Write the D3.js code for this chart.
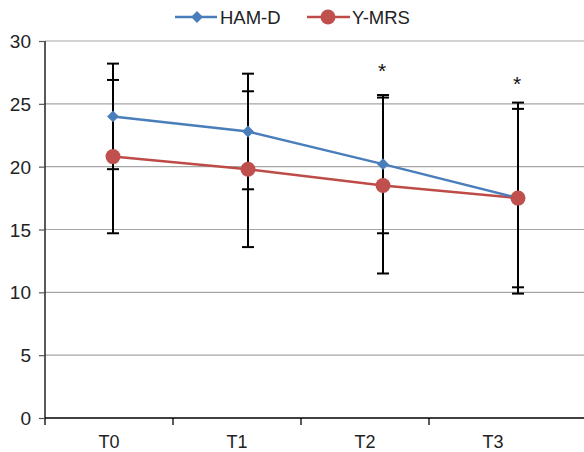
<!DOCTYPE html>
<html><head><meta charset="utf-8">
<script src="https://cdn.jsdelivr.net/npm/d3@7"></script>
<style>body{margin:0;background:#fff}svg{display:block;font-family:"Liberation Sans",Arial,sans-serif}</style>
</head><body>
<script>
const categories = ["T0","T1","T2","T3"];
const hamD = [24.0, 22.8, 20.2, 17.5];
const hamDErr = [4.2, 4.6, 5.5, 7.1];
const ymrs = [20.8, 19.8, 18.5, 17.5];
const ymrsErr = [6.1, 6.2, 7.0, 7.6];
const yTicks = [0,5,10,15,20,25,30];
const asterisks = [null, null, "*", "*"];
const asteriskY = [null, null, 28.0, 27.0];

const W = 584, H = 452;
const svg = d3.select("body").append("svg").attr("width", W).attr("height", H);

const y = d3.scaleLinear().domain([0,30]).range([418, 41]);
const xAxisBand = d3.scaleBand().domain(categories).range([45, 557]);
const x = d3.scalePoint().domain(categories).range([113, 518]);

// gridlines
svg.append("g").selectAll("line").data(yTicks.filter(d=>d>0)).join("line")
  .attr("x1",45).attr("x2",W).attr("y1",d=>y(d)).attr("y2",d=>y(d))
  .attr("stroke","#a6a6a6").attr("stroke-width",1.2);

// y axis
const ya = svg.append("g").attr("transform","translate(45,0)")
  .call(d3.axisLeft(y).tickValues(yTicks).tickSize(6).tickPadding(8));
ya.select(".domain").attr("stroke","#000").attr("stroke-width",1.3).attr("d","M0,41V425");
ya.selectAll(".tick line").attr("stroke","#555").attr("stroke-width",1.2);
ya.selectAll("text").attr("font-size",19).attr("fill","#222").attr("font-family","Liberation Sans, Arial, sans-serif").attr("dy","0.35em");

// x axis
svg.append("line").attr("x1",45).attr("x2",W).attr("y1",418).attr("y2",418).attr("stroke","#000").attr("stroke-width",1.3);
const bounds = categories.slice(1).map(c=>xAxisBand(c));
svg.append("g").selectAll("line").data(bounds).join("line")
  .attr("x1",d=>d).attr("x2",d=>d).attr("y1",418).attr("y2",425).attr("stroke","#000").attr("stroke-width",1.3);
svg.append("g").selectAll("text").data(categories).join("text")
  .attr("x",d=>xAxisBand(d)+xAxisBand.bandwidth()/2).attr("y",448)
  .attr("text-anchor","middle").attr("font-size",18).attr("fill","#222").text(d=>d);

// error bars
function errBars(vals, errs){
  const g = svg.append("g").attr("stroke","#000").attr("stroke-width",2);
  categories.forEach((c,i)=>{
    const cx = x(c), top = y(vals[i]+errs[i]), bot = y(vals[i]-errs[i]);
    g.append("line").attr("x1",cx).attr("x2",cx).attr("y1",top).attr("y2",bot);
    g.append("line").attr("x1",cx-6).attr("x2",cx+6).attr("y1",top).attr("y2",top);
    g.append("line").attr("x1",cx-6).attr("x2",cx+6).attr("y1",bot).attr("y2",bot);
  });
}
errBars(ymrs, ymrsErr);
errBars(hamD, hamDErr);

const line = d3.line().x((d,i)=>x(categories[i])).y(d=>y(d));
svg.append("path").datum(ymrs).attr("d",line).attr("fill","none").attr("stroke","#be4b48").attr("stroke-width",2.5);
svg.append("path").datum(hamD).attr("d",line).attr("fill","none").attr("stroke","#4a7ebb").attr("stroke-width",2.5);

const sq = d3.symbol().type(d3.symbolSquare).size(70);
svg.append("g").selectAll("path").data(hamD).join("path")
  .attr("d",sq)
  .attr("transform",(d,i)=>`translate(${x(categories[i])},${y(d)}) rotate(45)`)
  .attr("fill","#4a7ebb");
svg.append("g").selectAll("circle").data(ymrs).join("circle")
  .attr("cx",(d,i)=>x(categories[i])).attr("cy",d=>y(d)).attr("r",7.5).attr("fill","#c0504d");

// asterisks
svg.append("g").selectAll("text").data(categories.filter((c,i)=>asterisks[i]))
  .join("text")
  .attr("x",d=>x(d)-1).attr("y",d=>y(asteriskY[categories.indexOf(d)])+12)
  .attr("text-anchor","middle").attr("font-size",21).attr("fill","#111")
  .text(d=>asterisks[categories.indexOf(d)]);

// legend
const lg = svg.append("g");
lg.append("line").attr("x1",175).attr("x2",217).attr("y1",17).attr("y2",17).attr("stroke","#4a7ebb").attr("stroke-width",2.5);
lg.append("path").attr("d",sq).attr("transform","translate(197,17) rotate(45)").attr("fill","#4a7ebb");
lg.append("text").attr("x",220).attr("y",24).attr("font-size",18.5).attr("fill","#222").text("HAM-D");
lg.append("line").attr("x1",307).attr("x2",350).attr("y1",17).attr("y2",17).attr("stroke","#be4b48").attr("stroke-width",2.5);
lg.append("circle").attr("cx",328).attr("cy",17).attr("r",7.5).attr("fill","#c0504d");
lg.append("text").attr("x",352).attr("y",24).attr("font-size",18.5).attr("fill","#222").text("Y-MRS");
</script>
</body></html>
